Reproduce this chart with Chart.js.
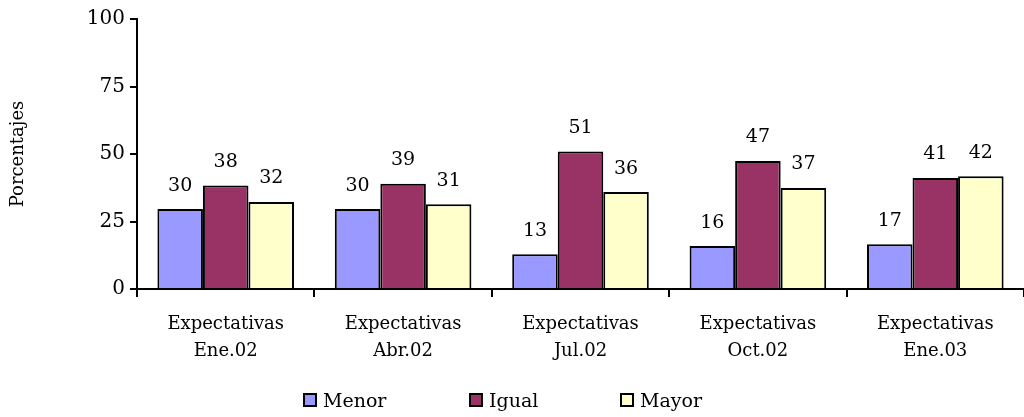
<!DOCTYPE html>
<html>
<head>
<meta charset="utf-8">
<script src="https://cdn.jsdelivr.net/npm/chart.js@4"></script>
<style>
  html, body { margin: 0; padding: 0; background: #fff; }
  #wrap { position: relative; width: 1024px; height: 417px; }
  #legend { position: absolute; top: 388px; left: 0; width: 1024px; height: 24px;
            font-family: 'DejaVu Serif', serif; font-size: 19px; color: #000; }
  .item { position: absolute; top: 0; display: flex; align-items: center; height: 24px; }
  .box { width: 10px; height: 10px; border: 2px solid #000; margin-right: 6px; }
</style>
</head>
<body>
<div id="wrap">
  <canvas id="myChart" width="1024" height="417"></canvas>
  <div id="legend"></div>
</div>
<script>
// data
const categories = [
    ['Expectativas', 'Ene.02'],
    ['Expectativas', 'Abr.02'],
    ['Expectativas', 'Jul.02'],
    ['Expectativas', 'Oct.02'],
    ['Expectativas', 'Ene.03']
];
const menor = [29.6, 29.6, 12.9, 15.9, 16.6];
const igual = [38.3, 39.0, 50.9, 47.4, 41.1];
const mayor = [32.2, 31.4, 35.9, 37.4, 41.8];
const yTicks = [0, 25, 50, 75, 100];
const seriesNames = ['Menor', 'Igual', 'Mayor'];
const seriesColors = ['#9999FF', '#993366', '#FFFFCC'];

const serif = "'DejaVu Serif', serif";

// labels above bars
const valueLabels = {
    id: 'valueLabels',
    afterDatasetsDraw(chart) {
        const ctx = chart.ctx;
        ctx.save();
        ctx.font = '19px ' + serif;
        ctx.fillStyle = '#000';
        ctx.textAlign = 'center';
        ctx.textBaseline = 'bottom';
        chart.data.datasets.forEach(function(ds, i) {
            chart.getDatasetMeta(i).data.forEach(function(bar, j) {
                ctx.fillText(Math.round(ds.data[j]), bar.x, bar.y - 14);
            });
        });
        ctx.restore();
    }
};

const seriesData = [menor, igual, mayor];

const ctx = document.getElementById('myChart').getContext('2d');
const chart = new Chart(ctx, {
    type: 'bar',
    data: {
        labels: categories,
        datasets: seriesNames.map(function(name, i) {
            return { label: name, data: seriesData[i], backgroundColor: seriesColors[i], borderColor: '#000', borderWidth: 2 };
        })
    },
    options: {
        responsive: false,
        animation: false,
        layout: { padding: { top: 19, right: 0, bottom: 48, left: 0 } },
        datasets: { bar: { categoryPercentage: 0.77, barPercentage: 1 } },
        plugins: {
            tooltip: { enabled: false },
            legend: { display: false }
        },
        scales: {
            x: {
                grid: { display: true, drawOnChartArea: false, color: '#000', lineWidth: 2, tickLength: 8, offset: true },
                border: { color: '#000', width: 2 },
                ticks: { color: '#000', font: { family: serif, size: 18, lineHeight: 1.5 }, maxRotation: 0, padding: 14 },
                afterFit(scale) { scale.height = 80; }
            },
            y: {
                min: 0,
                max: 100,
                afterBuildTicks(scale) { scale.ticks = yTicks.map(v => ({ value: v })); },
                grid: { display: true, drawOnChartArea: false, color: '#000', lineWidth: 2, tickLength: 7 },
                border: { color: '#000', width: 2 },
                ticks: { color: '#000', font: { family: serif, size: 20 }, padding: 5 },
                title: { display: true, text: 'Porcentajes', color: '#000', font: { family: serif, size: 18 }, padding: { top: 8, bottom: 0 } },
                afterFit(scale) { scale.width = 137; }
            }
        }
    },
    plugins: [valueLabels]
});

// legend as html
const legendLeft = [303, 469, 620];
const legend = document.getElementById('legend');
chart.data.datasets.forEach(function(ds, i) {
    const item = document.createElement('div');
    item.className = 'item';
    item.style.left = legendLeft[i] + 'px';
    item.innerHTML = '<span class="box" style="background:' + ds.backgroundColor + '"></span>' + ds.label;
    legend.appendChild(item);
});
</script>
</body>
</html>
